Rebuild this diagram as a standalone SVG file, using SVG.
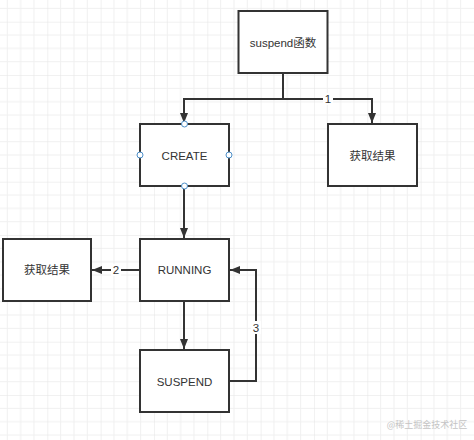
<svg xmlns="http://www.w3.org/2000/svg" width="474" height="440" viewBox="0 0 474 440">
  <defs>
    <pattern id="grid" x="47.3" y="21.7" width="53.333" height="53.333" patternUnits="userSpaceOnUse">
      <path d="M13.333 0V53.333M26.667 0V53.333M40 0V53.333M0 13.333H53.333M0 26.667H53.333M0 40H53.333" stroke="#f0f0f0" stroke-width="1" fill="none"/>
      <path d="M0 0V53.333M0 0H53.333" stroke="#e4e4e4" stroke-width="1" fill="none"/>
    </pattern>
    <marker id="arrow" markerWidth="10" markerHeight="10" viewBox="0 0 10 10" refX="10" refY="5" orient="auto" markerUnits="userSpaceOnUse">
      <path d="M0 1 L10 5 L0 9 Z" fill="#333333"/>
    </marker>
    <style>
      .box { fill: #ffffff; stroke: #333333; stroke-width: 2; }
      .lbl { font-family: "Liberation Sans", "Noto Sans CJK SC", Arial, sans-serif; font-size: 11.5px; fill: #333333; text-anchor: middle; dominant-baseline: central; }
      .edge { fill: none; stroke: #333333; stroke-width: 2; }
      .elbl { font-family: "Liberation Sans", Arial, sans-serif; font-size: 11.5px; fill: #333333; text-anchor: middle; dominant-baseline: central; }
      .pt { fill: #ffffff; stroke: #4d8fc9; stroke-width: 1; }
    </style>
  </defs>
  <rect width="474" height="440" fill="#ffffff"/>
  <rect width="474" height="440" fill="url(#grid)"/>

  <g id="connectors">
    <path class="edge" d="M283 73 V99 H184 V123" marker-end="url(#arrow)"/>
    <path class="edge" d="M283 99 H372 V123" marker-end="url(#arrow)"/>
    <rect x="323" y="93" width="10" height="12" fill="#ffffff"/>
    <text class="elbl" x="328" y="99">1</text>
    <path class="edge" d="M184 186 V238" marker-end="url(#arrow)"/>
    <path class="edge" d="M140 270 H92" marker-end="url(#arrow)"/>
    <rect x="111" y="264" width="10" height="12" fill="#ffffff"/>
    <text class="elbl" x="116" y="270">2</text>
    <path class="edge" d="M184 301 V349" marker-end="url(#arrow)"/>
    <path class="edge" d="M229 381 H256 V270 H230" marker-end="url(#arrow)"/>
    <rect x="251" y="321" width="10" height="13" fill="#ffffff"/>
    <text class="elbl" x="256" y="327.5">3</text>
  </g>

  <g id="node-suspend">
    <rect class="box" x="238.5" y="11" width="89" height="62"/>
    <text class="lbl" x="283" y="43">suspend函数</text>
  </g>
  <g id="node-create">
    <rect class="box" x="140" y="124" width="89" height="62"/>
    <text class="lbl" x="184.5" y="155.5">CREATE</text>
    <circle class="pt" cx="184.5" cy="124" r="3"/>
    <circle class="pt" cx="140" cy="155" r="3"/>
    <circle class="pt" cx="229" cy="155" r="3"/>
    <circle class="pt" cx="184.5" cy="186" r="3"/>
  </g>
  <g id="node-result1">
    <rect class="box" x="328" y="124" width="89" height="62"/>
    <text class="lbl" x="372.5" y="155.5">获取结果</text>
  </g>
  <g id="node-running">
    <rect class="box" x="140" y="239" width="89" height="62"/>
    <text class="lbl" x="184.5" y="270">RUNNING</text>
  </g>
  <g id="node-result2">
    <rect class="box" x="3" y="239" width="88" height="62"/>
    <text class="lbl" x="47" y="270">获取结果</text>
  </g>
  <g id="node-suspend-state">
    <rect class="box" x="140" y="350" width="89" height="62"/>
    <text class="lbl" x="184.5" y="381.5">SUSPEND</text>
  </g>

  <text x="427" y="424" font-family="'Noto Sans CJK SC', 'Liberation Sans', sans-serif" font-size="9" fill="#c4c4c4" text-anchor="middle" dominant-baseline="central">@稀土掘金技术社区</text>
</svg>
